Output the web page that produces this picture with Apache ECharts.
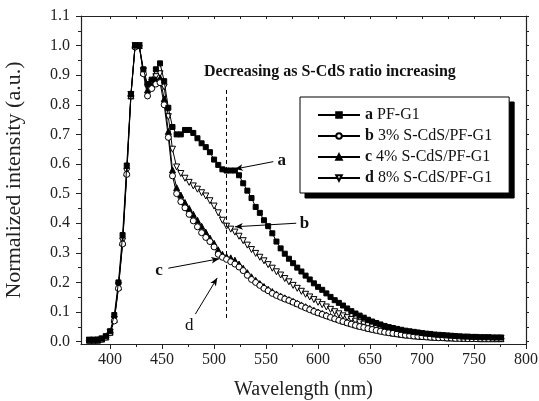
<!DOCTYPE html>
<html>
<head>
<meta charset="utf-8">
<script src="https://cdn.jsdelivr.net/npm/echarts@6/dist/echarts.min.js"></script>
<style>html,body{margin:0;padding:0;background:#fff}#c{width:539px;height:401px}</style>
</head>
<body>
<div id="c"></div>
<script>
var wavelength = [380,384,388,392,396,400,404,408,412,416,420,424,428,432,436,440,444,448,452,456,460,464,468,472,476,480,484,488,492,496,500,504,508,512,516,520,524,528,532,536,540,544,548,552,556,560,564,568,572,576,580,584,588,592,596,600,604,608,612,616,620,624,628,632,636,640,644,648,652,656,660,664,668,672,676,680,684,688,692,696,700,704,708,712,716,720,724,728,732,736,740,744,748,752,756,760,764,768,772,776];

var seriesA = [0.005,0.005,0.006,0.010,0.018,0.035,0.090,0.200,0.360,0.595,0.835,1.000,1.000,0.920,0.870,0.885,0.920,0.940,0.880,0.790,0.725,0.700,0.700,0.715,0.715,0.705,0.687,0.670,0.657,0.640,0.615,0.597,0.582,0.578,0.578,0.578,0.562,0.535,0.510,0.485,0.455,0.435,0.410,0.390,0.366,0.338,0.315,0.297,0.280,0.265,0.250,0.237,0.223,0.210,0.197,0.185,0.175,0.163,0.151,0.140,0.131,0.122,0.112,0.103,0.095,0.088,0.081,0.074,0.068,0.063,0.058,0.053,0.049,0.046,0.043,0.040,0.037,0.035,0.033,0.031,0.029,0.027,0.026,0.024,0.023,0.022,0.021,0.020,0.019,0.018,0.017,0.017,0.016,0.016,0.015,0.015,0.015,0.014,0.014,0.014];

var seriesB = [0.004,0.004,0.005,0.008,0.015,0.030,0.070,0.180,0.330,0.565,0.830,0.995,1.000,0.905,0.830,0.855,0.870,0.875,0.800,0.690,0.560,0.500,0.473,0.452,0.430,0.408,0.388,0.368,0.352,0.338,0.320,0.295,0.285,0.278,0.270,0.262,0.252,0.240,0.224,0.210,0.200,0.190,0.180,0.172,0.163,0.156,0.150,0.144,0.139,0.133,0.127,0.120,0.114,0.108,0.102,0.097,0.092,0.087,0.082,0.077,0.072,0.068,0.063,0.059,0.055,0.051,0.048,0.044,0.041,0.038,0.035,0.032,0.030,0.028,0.026,0.024,0.022,0.021,0.019,0.018,0.017,0.016,0.015,0.014,0.013,0.013,0.012,0.012,0.011,0.011,0.011,0.010,0.010,0.010,0.010,0.010,0.010,0.010,0.010,0.010];

var seriesC = [0.005,0.005,0.005,0.009,0.016,0.032,0.075,0.185,0.335,0.570,0.830,1.000,1.000,0.910,0.850,0.865,0.885,0.890,0.820,0.710,0.580,0.520,0.495,0.470,0.450,0.430,0.410,0.390,0.370,0.350,0.332,0.310,0.295,0.287,0.283,0.275,0.262,0.248,0.233,0.219,0.207,0.196,0.186,0.177,0.169,0.161,0.154,0.148,0.142,0.136,0.130,0.124,0.118,0.112,0.106,0.100,0.095,0.090,0.085,0.080,0.075,0.070,0.066,0.061,0.057,0.053,0.050,0.046,0.043,0.040,0.037,0.034,0.032,0.029,0.027,0.025,0.023,0.022,0.020,0.019,0.018,0.017,0.016,0.015,0.014,0.014,0.013,0.013,0.012,0.012,0.011,0.011,0.011,0.011,0.010,0.010,0.010,0.010,0.010,0.010];

var seriesD = [0.005,0.005,0.005,0.009,0.016,0.032,0.075,0.190,0.340,0.575,0.835,1.000,1.000,0.915,0.860,0.875,0.895,0.905,0.860,0.760,0.650,0.590,0.568,0.552,0.538,0.526,0.515,0.503,0.492,0.476,0.458,0.435,0.410,0.390,0.380,0.370,0.356,0.341,0.326,0.311,0.298,0.285,0.273,0.260,0.248,0.236,0.225,0.213,0.202,0.190,0.180,0.170,0.160,0.151,0.142,0.133,0.125,0.117,0.109,0.101,0.094,0.087,0.081,0.075,0.069,0.064,0.059,0.054,0.050,0.046,0.042,0.039,0.036,0.033,0.031,0.029,0.027,0.025,0.023,0.021,0.020,0.019,0.018,0.017,0.016,0.015,0.015,0.014,0.014,0.013,0.013,0.012,0.012,0.012,0.011,0.011,0.011,0.011,0.011,0.011];

var seriesNames = ['a PF-G1','b 3% S-CdS/PF-G1','c 4% S-CdS/PF-G1','d 8% S-CdS/PF-G1'];
var xTickLabels = [400,450,500,550,600,650,700,750,800];
var xMinorTicks = [425,475,525,575,625,675,725,775];
var yTickLabels = [0,0.1,0.2,0.3,0.4,0.5,0.6,0.7,0.8,0.9,1.0,1.1];
var yMinorTicks = [0.05,0.15,0.25,0.35,0.45,0.55,0.65,0.75,0.85,0.95,1.05];
var titleText = 'Decreasing as S-CdS ratio increasing';

// annotations in data coordinates
var annotations = [
  {text:'a', label:[565,0.612], tail:[557,0.608], tip:[520,0.583], bold:true},
  {text:'b', label:[587,0.400], tail:[579,0.400], tip:[520,0.388], bold:true},
  {text:'c', label:[447,0.240], tail:[456,0.248], tip:[505,0.280], bold:true},
  {text:'d', label:[476,0.055], tail:[482,0.093], tip:[503,0.215], bold:false}
];
var dashedLine = [[512,0.08],[512,0.86]];

var FONT = '"Liberation Serif","Times New Roman",serif';

function pairs(y){ return wavelength.map(function(x,i){ return [x,y[i]]; }); }

var symbols = [
  {symbol:'rect', size:5, fill:'#000'},
  {symbol:'circle', size:6, fill:'#fff'},
  {symbol:'triangle', size:6, fill:'#000'},
  {symbol:'triangle', size:6, fill:'#fff', rotate:180}
];
var datas = [seriesA, seriesB, seriesC, seriesD];

var series = datas.map(function(d,i){
  var s = symbols[i];
  return {
    name: seriesNames[i], type:'line', data: pairs(d),
    symbol: s.symbol, symbolSize: s.size, symbolRotate: s.rotate || 0,
    showAllSymbol: true,
    lineStyle:{color:'#000', width:1},
    itemStyle:{color:s.fill, borderColor:'#000', borderWidth:1},
    emphasis:{disabled:true}, animation:false, z: 3 + (3 - i)
  };
});

var mlData = [[{coord:dashedLine[0], symbol:'none', lineStyle:{type:[4,3]}},{coord:dashedLine[1], symbol:'none'}]];
annotations.forEach(function(a){
  mlData.push([{coord:a.tail, symbol:'none'},{coord:a.tip, symbol:'arrow', symbolSize:[5,8]}]);
});
series.push({
  type:'line', data:[], silent:true,
  markLine:{silent:true, animation:false, symbol:'none', label:{show:false},
    lineStyle:{color:'#000', width:1, type:'solid'}, data: mlData}
});

var LEG = {left:300, top:97, shadow:5};

function legendFormatter(n){ return '{b|'+n.charAt(0)+'}'+n.slice(1); }
var legendBase = {
  orient:'vertical', data:seriesNames,
  itemWidth:42, itemHeight:7, itemGap:5,
  padding:[10,17,7,17], borderWidth:1,
  formatter:legendFormatter, selectedMode:false
};

var axisCommon = {type:'value', min:372, max:800};
var option = {
  animation:false,
  title:{text:titleText, left:199, top:59, textStyle:{fontFamily:FONT, fontSize:16, fontWeight:'bold', color:'#111'}},
  grid:{left:81, right:13, top:16, bottom:57, containLabel:false, outerBoundsMode:'none'},
  legend:[
    // drop shadow: an all-black copy of the legend, shifted down-right
    Object.assign({}, legendBase, {left:LEG.left+LEG.shadow, top:LEG.top+LEG.shadow, z:8,
      backgroundColor:'#000', borderColor:'#000',
      itemStyle:{color:'#000', borderColor:'#000'}, lineStyle:{color:'#000'},
      textStyle:{fontFamily:FONT, fontSize:16, color:'#000',
        rich:{b:{fontFamily:FONT, fontSize:16, fontWeight:'bold', color:'#000'}}}}),
    // main legend box
    Object.assign({}, legendBase, {left:LEG.left, top:LEG.top, z:10,
      backgroundColor:'#fff', borderColor:'#000',
      textStyle:{fontFamily:FONT, fontSize:16, color:'#111',
        rich:{b:{fontFamily:FONT, fontSize:16, fontWeight:'bold', color:'#111'}}}})
  ],
  xAxis:[
    Object.assign({}, axisCommon, {position:'bottom',
      name:'Wavelength (nm)', nameLocation:'middle', nameGap:36,
      nameTextStyle:{fontFamily:FONT, fontSize:20, color:'#222'},
      axisLine:{show:true, onZero:false, lineStyle:{color:'#222', width:1.2}},
      axisTick:{show:true, customValues:xTickLabels, length:5, lineStyle:{color:'#222'}},
      axisLabel:{customValues:xTickLabels, fontFamily:FONT, fontSize:16, color:'#222', margin:8},
      splitLine:{show:false}}),
    Object.assign({}, axisCommon, {position:'bottom',
      axisLine:{show:false, onZero:false},
      axisTick:{show:true, customValues:xMinorTicks, length:3, lineStyle:{color:'#222'}},
      axisLabel:{show:false}, splitLine:{show:false}}),
    Object.assign({}, axisCommon, {position:'top',
      axisLine:{show:true, onZero:false, lineStyle:{color:'#222', width:1.2}},
      axisTick:{show:true, inside:true, customValues:xTickLabels.concat(xMinorTicks), length:3, lineStyle:{color:'#222'}},
      axisLabel:{show:false}, splitLine:{show:false}})
  ],
  yAxis:[
    {type:'value', min:-0.008, max:1.1, position:'left',
      name:'Normalized intensity (a.u.)', nameLocation:'middle', nameGap:56, nameRotate:90,
      nameTextStyle:{fontFamily:FONT, fontSize:22, color:'#222'},
      axisLine:{show:true, onZero:false, lineStyle:{color:'#222', width:1.2}},
      axisTick:{show:true, customValues:yTickLabels, length:5, lineStyle:{color:'#222'}},
      axisLabel:{customValues:yTickLabels, formatter:function(v){return v.toFixed(1);}, fontFamily:FONT, fontSize:16, color:'#222', margin:11},
      splitLine:{show:false}},
    {type:'value', min:-0.008, max:1.1, position:'left',
      axisLine:{show:false, onZero:false},
      axisTick:{show:true, customValues:yMinorTicks, length:3, lineStyle:{color:'#222'}},
      axisLabel:{show:false}, splitLine:{show:false}},
    {type:'value', min:-0.008, max:1.1, position:'right',
      axisLine:{show:true, onZero:false, lineStyle:{color:'#222', width:1.2}},
      axisTick:{show:true, customValues:yTickLabels.concat(yMinorTicks), length:3, lineStyle:{color:'#222'}},
      axisLabel:{show:false}, splitLine:{show:false}}
  ],
  series: series
};

var chart = echarts.init(document.getElementById('c'), null, {renderer:'canvas'});
chart.setOption(option);

var elements = [];
annotations.forEach(function(a, i){
  var p = chart.convertToPixel({xAxisIndex:0, yAxisIndex:0}, a.label);
  elements.push({type:'text', id:'ann'+i, x:p[0], y:p[1], silent:true, z:5,
    style:{text:a.text, fontFamily:FONT, fontSize:17, fontWeight:a.bold?'bold':'normal', fill:'#111', align:'center', verticalAlign:'middle'}});
});
chart.setOption({graphic:{elements:elements}});
</script>
</body>
</html>
